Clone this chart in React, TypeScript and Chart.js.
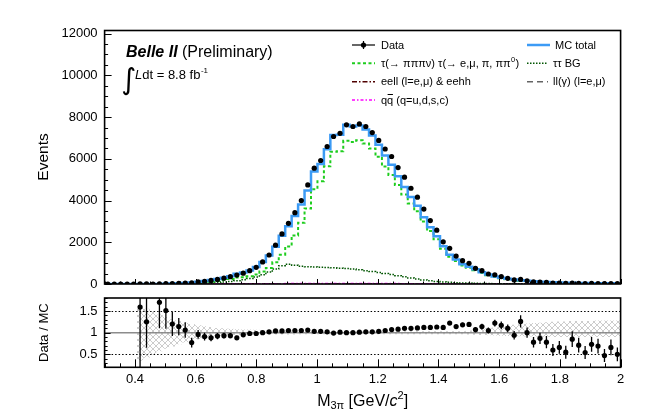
import React, { useEffect, useRef } from 'react';
import { Chart, registerables } from 'chart.js';

Chart.register(...registerables);

// ---------- binning ----------
const X_MIN = 0.3;
const X_MAX = 2.0;
const N_BINS = 80;

// ---------- main panel values (events per bin) ----------
const DATA = [
  0, 0, 0, 0, 0, 2, 4, 0, 8, 14,
  25, 35, 45, 55, 100, 130, 170, 220, 280, 350,
  430, 520, 640, 800, 1060, 1390, 1860, 2400, 2910, 3420,
  4000, 4750, 5550, 5920, 6590, 7070, 7220, 7630, 7550, 7670,
  7550, 7260, 6880, 6470, 6110, 5580, 5120, 4590, 4160, 3590,
  3040, 2580, 2020, 1710, 1340, 1120, 990, 750, 640, 480,
  443, 354, 273, 197, 220, 150, 100, 96, 74, 49,
  48, 35, 48, 35, 24, 29, 25, 15, 20, 14,
];

const MC_TOTAL = [
  0.5, 0.7, 1, 1.3, 1.6, 1.3, 3.2, 4, 4.7, 9.3,
  21, 31, 43, 71, 104, 143, 193, 239, 301, 376,
  489, 547, 653, 816, 1060, 1363, 1788, 2308, 2771, 3257,
  3810, 4481, 5388, 5748, 6461, 7141, 7149, 7630, 7550, 7594,
  7402, 7118, 6680, 6162, 5710, 5167, 4655, 4173, 3748, 3205,
  2714, 2283, 1804, 1402, 1175, 949, 832, 701, 561, 457,
  360, 300, 250, 210, 175, 150, 128, 110, 95, 82,
  72, 63, 56, 50, 45, 40, 36, 33, 30, 27,
];

const SIGNAL = [
  0.2, 0.3, 0.4, 0.5, 0.6, 0.3, 1.1, 1.2, 1.1, 3.8,
  10.5, 15.4, 21.3, 39.7, 61, 85.3, 119.6, 145.9, 186.2, 234.5,
  311, 328, 373, 455, 598, 770, 1044, 1403, 1795, 2330,
  2932, 3623, 4544, 4919, 5641, 6336, 6359, 6860, 6806, 6885,
  6734, 6490, 6098, 5630, 5230, 4743, 4287, 3861, 3488, 2991,
  2541, 2141, 1688, 1307, 1097, 885, 778, 656, 523, 425,
  333, 278, 231, 194, 161, 138, 118, 101, 86, 74,
  65, 56, 50, 44, 39, 34, 31, 28, 25, 22,
];

const TAUTAU_BG = [
  0.3, 0.4, 0.6, 0.8, 1, 0.6, 1.5, 2, 2.5, 4,
  8, 12, 17, 25, 35, 48, 62, 80, 100, 125,
  160, 200, 260, 340, 440, 570, 720, 880, 950, 900,
  850, 830, 815, 800, 790, 775, 760, 740, 715, 680,
  640, 600, 555, 505, 455, 400, 345, 290, 240, 195,
  155, 125, 100, 80, 64, 51, 41, 33, 26, 21,
  17, 13, 10, 8, 6, 5, 4, 3, 3, 2,
  2, 2, 1, 1, 1, 1, 1, 1, 1, 1,
];

const QQ_BG = [
  0, 0, 0, 0, 0, 0.2, 0.3, 0.4, 0.5, 0.7,
  1, 1.5, 2, 3, 4, 5, 6, 7, 8, 9,
  10, 11, 12, 13, 14, 15, 16, 17, 18, 19,
  20, 20, 21, 21, 22, 22, 22, 22, 22, 22,
  21, 21, 20, 20, 19, 18, 17, 16, 15, 14,
  13, 12, 11, 10, 10, 9, 9, 8, 8, 7,
  7, 6, 6, 5, 5, 5, 4, 4, 4, 4,
  3, 3, 3, 3, 3, 3, 2, 2, 2, 2,
];

const EELL_BG = [
  0, 0, 0, 0, 0, 0.2, 0.3, 0.4, 0.6, 0.8,
  1, 1.5, 2, 2.5, 3, 3.5, 4, 4.5, 5, 5.5,
  6, 6, 6, 6, 6, 6, 6, 6, 6, 6,
  6, 6, 6, 6, 6, 6, 6, 6, 5, 5,
  5, 5, 5, 5, 4, 4, 4, 4, 3, 3,
  3, 3, 3, 3, 2, 2, 2, 2, 2, 2,
  2, 2, 2, 2, 1, 1, 1, 1, 1, 1,
  1, 1, 1, 1, 1, 1, 1, 1, 1, 1,
];

const LLG_BG = [
  0, 0, 0, 0, 0, 0, 0, 0, 0, 0,
  0.5, 0.6, 0.7, 0.8, 1, 1.2, 1.4, 1.6, 1.8, 2,
  2, 2, 2, 2, 2, 2, 2, 2, 2, 2,
  2, 2, 2, 2, 2, 2, 2, 2, 2, 2,
  2, 2, 2, 2, 2, 2, 2, 2, 2, 2,
  2, 2, 2, 2, 2, 2, 2, 2, 2, 2,
  1, 1, 1, 1, 1, 1, 1, 1, 1, 1,
  1, 1, 1, 1, 1, 1, 1, 1, 1, 1,
];

// ---------- ratio panel values ----------
const RATIO = [
  null, null, null, null, null, 1.59, 1.25, null, 1.70, 1.51,
  1.20, 1.14, 1.06, 0.77, 0.96, 0.91, 0.88, 0.92, 0.93, 0.93,
  0.88, 0.95, 0.98, 0.98, 1.00, 1.02, 1.04, 1.04, 1.05, 1.05,
  1.05, 1.06, 1.03, 1.03, 1.02, 0.99, 1.01, 1.00, 1.00, 1.01,
  1.02, 1.02, 1.03, 1.05, 1.07, 1.08, 1.10, 1.10, 1.11, 1.12,
  1.12, 1.13, 1.12, 1.22, 1.14, 1.18, 1.19, 1.07, 1.14, 1.05,
  1.22, 1.17, 1.10, 0.94, 1.26, 1.00, 0.78, 0.87, 0.78, 0.60,
  0.66, 0.55, 0.85, 0.71, 0.54, 0.73, 0.69, 0.47, 0.66, 0.50,
];

const RATIO_ERR = [
  null, null, null, null, null, 1.6, 0.6, null, 0.6, 0.42,
  0.28, 0.2, 0.18, 0.11, 0.1, 0.09, 0.08, 0.07, 0.065, 0.06,
  0.05, 0.045, 0.04, 0.035, 0.03, 0.03, 0.025, 0.025, 0.02, 0.02,
  0.02, 0.02, 0.02, 0.02, 0.02, 0.02, 0.02, 0.02, 0.02, 0.02,
  0.02, 0.02, 0.02, 0.02, 0.02, 0.02, 0.02, 0.02, 0.02, 0.02,
  0.025, 0.03, 0.03, 0.04, 0.045, 0.05, 0.055, 0.06, 0.065, 0.07,
  0.08, 0.09, 0.09, 0.1, 0.14, 0.12, 0.12, 0.13, 0.14, 0.14,
  0.15, 0.15, 0.18, 0.17, 0.15, 0.17, 0.17, 0.15, 0.18, 0.16,
];

const BAND_LO = [
  null, null, null, null, null, 0.35, 0.42, 0.5, 0.57, 0.63,
  0.68, 0.73, 0.77, 0.81, 0.84, 0.86, 0.88, 0.9, 0.91, 0.92,
  0.93, 0.935, 0.94, 0.945, 0.95, 0.955, 0.955, 0.955, 0.955, 0.955,
  0.965, 0.965, 0.965, 0.965, 0.965, 0.965, 0.965, 0.965, 0.965, 0.965,
  0.965, 0.965, 0.965, 0.965, 0.965, 0.965, 0.965, 0.965, 0.965, 0.965,
  0.965, 0.965, 0.965, 0.965, 0.965, 0.965, 0.955, 0.95, 0.945, 0.94,
  0.935, 0.93, 0.925, 0.92, 0.915, 0.91, 0.91, 0.905, 0.905, 0.9,
  0.9, 0.9, 0.9, 0.9, 0.9, 0.9, 0.9, 0.9, 0.9, 0.9,
];

const BAND_HI = [
  null, null, null, null, null, 1.62, 1.55, 1.48, 1.42, 1.36,
  1.31, 1.27, 1.23, 1.2, 1.17, 1.15, 1.13, 1.11, 1.1, 1.09,
  1.08, 1.075, 1.07, 1.065, 1.06, 1.05, 1.05, 1.05, 1.05, 1.05,
  1.035, 1.035, 1.035, 1.035, 1.035, 1.035, 1.035, 1.035, 1.035, 1.035,
  1.035, 1.035, 1.035, 1.035, 1.035, 1.035, 1.035, 1.035, 1.035, 1.035,
  1.035, 1.035, 1.035, 1.035, 1.035, 1.035, 1.05, 1.06, 1.08, 1.1,
  1.12, 1.14, 1.16, 1.18, 1.2, 1.21, 1.22, 1.23, 1.24, 1.25,
  1.26, 1.26, 1.27, 1.27, 1.27, 1.27, 1.28, 1.28, 1.28, 1.28,
];

// ---------- tick labels ----------
const X_TICKS = [0.4, 0.6, 0.8, 1.0, 1.2, 1.4, 1.6, 1.8, 2.0];
const Y_TICKS_MAIN = [0, 2000, 4000, 6000, 8000, 10000, 12000];
const Y_TICKS_RATIO = [0.5, 1, 1.5];
const Y_MAX_MAIN = 12150;
const Y_MIN_RATIO = 0.2;
const Y_MAX_RATIO = 1.8;

// ---------- layout / style ----------
const W = 654;
const MAIN_H = 292;
const RATIO_H = 126;
const PLOT_L = 104.6;
const PLOT_R = 620.6;
const MAIN_TOP = 30.5;
const MAIN_BOTTOM = 284;
const RATIO_TOP = 6;
const RATIO_BOTTOM = 75.3;
const FONT = '"Liberation Sans", Arial, Helvetica, sans-serif';

const C_MC = 'rgb(60,155,245)';
const C_SIG = 'rgb(30,205,30)';
const C_TT = 'rgb(0,85,0)';
const C_EELL = 'rgb(80,0,0)';
const C_LLG = 'rgb(100,100,100)';
const C_QQ = 'rgb(255,0,255)';

const BIN_W = (X_MAX - X_MIN) / N_BINS;
const binCenter = (i: number) => X_MIN + (i + 0.5) * BIN_W;

function stepPoints(vals: (number | null)[]) {
  const pts: { x: number; y: number }[] = [];
  let last = 0;
  vals.forEach((v, i) => {
    if (v == null) return;
    pts.push({ x: X_MIN + i * BIN_W, y: v });
    last = v;
  });
  pts.push({ x: X_MAX, y: last });
  return pts;
}

function makeHatch(color: string) {
  const c = document.createElement('canvas');
  c.width = 6;
  c.height = 6;
  const g = c.getContext('2d')!;
  g.strokeStyle = color;
  g.lineWidth = 0.7;
  g.beginPath();
  g.moveTo(0, 0);
  g.lineTo(6, 6);
  g.moveTo(6, 0);
  g.lineTo(0, 6);
  g.stroke();
  return g.createPattern(c, 'repeat') as CanvasPattern;
}

function histDataset(vals: number[], color: string, width: number, dash: number[]) {
  return {
    data: stepPoints(vals),
    stepped: 'before' as const,
    borderColor: color,
    borderWidth: width,
    borderDash: dash,
    pointRadius: 0,
    fill: false,
    tension: 0,
  };
}

function range(start: number, end: number, step: number) {
  const out: number[] = [];
  const n = Math.round((end - start) / step);
  for (let k = 0; k <= n; k++) out.push(start + k * step);
  return out;
}

function noOverflowY(s: any) {
  s.width = PLOT_L;
  s.paddingTop = 0;
  s.paddingBottom = 0;
}

function drawXTicks(chart: any, major: number, minor: number) {
  const { ctx, chartArea: a, scales } = chart;
  const x = scales.x;
  ctx.save();
  ctx.strokeStyle = '#000';
  ctx.lineWidth = 1;
  ctx.beginPath();
  range(X_MIN, X_MAX, 0.05).forEach((v) => {
    const isMajor = X_TICKS.some((t) => Math.abs(t - v) < 1e-6);
    const px = Math.round(x.getPixelForValue(v)) + 0.5;
    ctx.moveTo(px, a.bottom);
    ctx.lineTo(px, a.bottom - (isMajor ? major : minor));
  });
  ctx.stroke();
  ctx.restore();
}

function drawYTicks(chart: any, majors: number[], minors: number[], major: number, minor: number) {
  const { ctx, chartArea: a, scales } = chart;
  const y = scales.y;
  ctx.save();
  ctx.strokeStyle = '#000';
  ctx.lineWidth = 1;
  ctx.beginPath();
  minors.forEach((v) => {
    const isMajor = majors.some((t) => Math.abs(t - v) < 1e-6);
    const py = Math.round(y.getPixelForValue(v)) + 0.5;
    ctx.moveTo(a.left, py);
    ctx.lineTo(a.left + (isMajor ? major : minor), py);
  });
  ctx.stroke();
  ctx.restore();
}

function drawFrame(chart: any) {
  const { ctx, chartArea: a } = chart;
  ctx.save();
  ctx.strokeStyle = '#000';
  ctx.lineWidth = 1.6;
  ctx.strokeRect(a.left, a.top, a.right - a.left, a.bottom - a.top);
  ctx.restore();
}

function drawLegendLine(ctx: CanvasRenderingContext2D, x0: number, x1: number, y: number, color: string, width: number, dash: number[]) {
  ctx.save();
  ctx.strokeStyle = color;
  ctx.lineWidth = width;
  ctx.setLineDash(dash);
  ctx.beginPath();
  ctx.moveTo(x0, y);
  ctx.lineTo(x1, y);
  ctx.stroke();
  ctx.restore();
}

const mainDecor = {
  id: 'mainDecor',
  afterDraw(chart: any) {
    const ctx: CanvasRenderingContext2D = chart.ctx;
    drawFrame(chart);
    drawYTicks(chart, Y_TICKS_MAIN, range(0, 12000, 500), 7, 3.5);
    drawXTicks(chart, 5, 2.5);

    ctx.save();
    ctx.fillStyle = '#000';
    ctx.textBaseline = 'alphabetic';
    ctx.textAlign = 'left';
    // Belle II (Preliminary)
    ctx.font = `italic bold 16px ${FONT}`;
    ctx.fillText('Belle II', 126, 57);
    const wB = ctx.measureText('Belle II').width;
    ctx.font = `16px ${FONT}`;
    ctx.fillText(' (Preliminary)', 126 + wB, 57);
    // integral
    ctx.font = `29px "DejaVu Sans", sans-serif`;
    ctx.fillText('\u222B', 121, 89);
    ctx.font = `italic 13px ${FONT}`;
    ctx.fillText('L', 135, 79);
    let xx = 135 + ctx.measureText('L').width;
    ctx.font = `13px ${FONT}`;
    ctx.fillText('dt = 8.8 fb', xx, 79);
    xx += ctx.measureText('dt = 8.8 fb').width;
    ctx.font = `8px ${FONT}`;
    ctx.fillText('-1', xx + 0.5, 73);

    // legend
    const rows = [45, 63.3, 81.7, 100];
    const lx0 = 352, lx1 = 375, ltx = 381;
    const rx0 = 527, rx1 = 550, rtx = 555;
    ctx.font = `11px ${FONT}`;
    ctx.textBaseline = 'middle';
    // Data
    drawLegendLine(ctx, lx0, lx1, rows[0], '#000', 1.2, []);
    ctx.beginPath();
    ctx.moveTo((lx0 + lx1) / 2, rows[0] - 4);
    ctx.lineTo((lx0 + lx1) / 2, rows[0] + 4);
    ctx.lineWidth = 1.2;
    ctx.strokeStyle = '#000';
    ctx.stroke();
    ctx.beginPath();
    ctx.arc((lx0 + lx1) / 2, rows[0], 2.6, 0, Math.PI * 2);
    ctx.fill();
    ctx.fillText('Data', ltx, rows[0] + 0.5);
    // signal
    drawLegendLine(ctx, lx0, lx1, rows[1], C_SIG, 2, [3, 2.5]);
    const sigTxt = '\u03C4(\u2192 \u03C0\u03C0\u03C0\u03BD) \u03C4(\u2192 e,\u03BC, \u03C0, \u03C0\u03C0';
    ctx.fillText(sigTxt, ltx, rows[1] + 0.5);
    let sx = ltx + ctx.measureText(sigTxt).width;
    ctx.font = `7.5px ${FONT}`;
    ctx.fillText('0', sx + 0.3, rows[1] - 3.5);
    sx += ctx.measureText('0').width + 0.6;
    ctx.font = `11px ${FONT}`;
    ctx.fillText(')', sx, rows[1] + 0.5);
    // eell
    drawLegendLine(ctx, lx0, lx1, rows[2], C_EELL, 1.5, [5, 2, 1.5, 2]);
    ctx.fillText('eell (l=e,\u03BC) & eehh', ltx, rows[2] + 0.5);
    // qq
    drawLegendLine(ctx, lx0, lx1, rows[3], C_QQ, 1.5, [3, 2, 1.5, 2]);
    ctx.fillText('qq', ltx, rows[3] + 0.5);
    const wq = ctx.measureText('q').width;
    ctx.beginPath();
    ctx.strokeStyle = '#000';
    ctx.lineWidth = 1;
    ctx.moveTo(ltx + wq + 0.5, rows[3] - 5.5);
    ctx.lineTo(ltx + 2 * wq - 0.3, rows[3] - 5.5);
    ctx.stroke();
    ctx.fillText(' (q=u,d,s,c)', ltx + 2 * wq, rows[3] + 0.5);
    // right column
    drawLegendLine(ctx, rx0, rx1, rows[0], C_MC, 2.5, []);
    ctx.fillText('MC total', rtx, rows[0] + 0.5);
    drawLegendLine(ctx, rx0, rx1 - 3, rows[1], C_TT, 1.5, [1.5, 1.5]);
    ctx.fillText('\u03C4\u03C4 BG', rtx - 2, rows[1] + 0.5);
    drawLegendLine(ctx, rx0, rx1 - 2, rows[2], C_LLG, 1.5, [6, 4]);
    ctx.fillText('ll(\u03B3) (l=e,\u03BC)', rtx - 2, rows[2] + 0.5);

    // y title
    ctx.font = `15.5px ${FONT}`;
    ctx.translate(44, 157);
    ctx.rotate(-Math.PI / 2);
    ctx.textAlign = 'center';
    ctx.textBaseline = 'middle';
    ctx.fillText('Events', 0, 0);
    ctx.restore();
  },
};

const ratioDecor = {
  id: 'ratioDecor',
  beforeDatasetsDraw(chart: any) {
    const { ctx, chartArea: a, scales } = chart;
    const y = scales.y;
    ctx.save();
    ctx.lineWidth = 1;
    ctx.strokeStyle = '#000';
    ctx.setLineDash([1.5, 2]);
    [0.5, 1.5].forEach((v) => {
      const py = Math.round(y.getPixelForValue(v)) + 0.5;
      ctx.beginPath();
      ctx.moveTo(a.left, py);
      ctx.lineTo(a.right, py);
      ctx.stroke();
    });
    ctx.setLineDash([]);
    ctx.strokeStyle = 'rgb(140,140,140)';
    ctx.lineWidth = 1.5;
    const p1 = y.getPixelForValue(1);
    ctx.beginPath();
    ctx.moveTo(a.left, p1);
    ctx.lineTo(a.right, p1);
    ctx.stroke();
    ctx.restore();
  },
  afterDatasetsDraw(chart: any) {
    const { ctx, chartArea: a, scales } = chart;
    const x = scales.x;
    const y = scales.y;
    ctx.save();
    ctx.beginPath();
    ctx.rect(a.left, a.top, a.right - a.left, a.bottom - a.top);
    ctx.clip();
    ctx.strokeStyle = '#000';
    ctx.lineWidth = 1.3;
    RATIO.forEach((v, i) => {
      const e = RATIO_ERR[i];
      if (v == null || e == null) return;
      const px = x.getPixelForValue(binCenter(i));
      ctx.beginPath();
      ctx.moveTo(px, y.getPixelForValue(v - e));
      ctx.lineTo(px, y.getPixelForValue(v + e));
      ctx.stroke();
    });
    ctx.restore();
  },
  afterDraw(chart: any) {
    const ctx: CanvasRenderingContext2D = chart.ctx;
    drawFrame(chart);
    drawYTicks(chart, Y_TICKS_RATIO, range(Y_MIN_RATIO, Y_MAX_RATIO, 0.1), 6, 3);
    drawXTicks(chart, 8, 4);
    ctx.save();
    ctx.fillStyle = '#000';
    // y title
    ctx.save();
    ctx.font = `13px ${FONT}`;
    ctx.translate(44, (chart.chartArea.top + chart.chartArea.bottom) / 2);
    ctx.rotate(-Math.PI / 2);
    ctx.textAlign = 'center';
    ctx.textBaseline = 'middle';
    ctx.fillText('Data / MC', 0, 0);
    ctx.restore();
    // x title
    const cy = 110;
    const big = `16px ${FONT}`;
    const small = `11px ${FONT}`;
    const ital = `italic 16px ${FONT}`;
    const parts: [string, string, number][] = [
      ['M', big, 0],
      ['3\u03C0', small, 4],
      [' [GeV/', big, 0],
      ['c', ital, 0],
      ['2', small, -6],
      [']', big, 0],
    ];
    let total = 0;
    parts.forEach(([t, f]) => {
      ctx.font = f;
      total += ctx.measureText(t).width;
    });
    let px = (chart.chartArea.left + chart.chartArea.right) / 2 - total / 2;
    ctx.textBaseline = 'middle';
    ctx.textAlign = 'left';
    parts.forEach(([t, f, dy]) => {
      ctx.font = f;
      ctx.fillText(t, px, cy + dy);
      px += ctx.measureText(t).width;
    });
    ctx.restore();
  },
};

export default function App() {
  const mainRef = useRef<HTMLCanvasElement>(null);
  const ratioRef = useRef<HTMLCanvasElement>(null);

  useEffect(() => {
    Chart.defaults.font.family = FONT;
    Chart.defaults.color = '#000';
    const hatch = makeHatch('rgba(150,150,150,0.7)');

    const dataPoints = DATA.map((v, i) => ({ x: binCenter(i), y: v }));

    const main = new Chart(mainRef.current!, {
      type: 'line',
      data: {
        datasets: [
          {
            data: dataPoints,
            showLine: false,
            pointRadius: 2.6,
            pointBackgroundColor: '#000',
            pointBorderWidth: 0,
            borderColor: '#000',
          } as any,
          histDataset(MC_TOTAL, C_MC, 2.5, []),
          histDataset(SIGNAL, C_SIG, 2, [3, 2.5]),
          histDataset(TAUTAU_BG, C_TT, 1.5, [1.5, 1.5]),
          histDataset(QQ_BG, C_QQ, 1.5, [3, 2, 1.5, 2]),
          histDataset(LLG_BG, C_LLG, 1.5, [6, 4]),
          histDataset(EELL_BG, C_EELL, 1.5, [5, 2, 1.5, 2]),
        ],
      },
      options: {
        animation: false,
        responsive: false,
        devicePixelRatio: 1,
        events: [],
        layout: { padding: { left: 0, right: W - PLOT_R, top: MAIN_TOP, bottom: MAIN_H - MAIN_BOTTOM } },
        plugins: { legend: { display: false }, tooltip: { enabled: false } },
        scales: {
          x: { type: 'linear', min: X_MIN, max: X_MAX, display: false },
          y: {
            type: 'linear',
            min: 0,
            max: Y_MAX_MAIN,
            afterFit: noOverflowY,
            afterBuildTicks: (s: any) => {
              s.ticks = Y_TICKS_MAIN.map((v) => ({ value: v }));
            },
            grid: { display: false, drawTicks: false },
            border: { display: false },
            ticks: {
              padding: 7,
              color: '#000',
              font: { size: 13, family: FONT },
              callback: (v: any) => String(v),
            },
          },
        },
      } as any,
      plugins: [mainDecor],
    });

    const ratioPoints = RATIO.map((v, i) => (v == null ? null : { x: binCenter(i), y: v })).filter(
      (p) => p != null
    );

    const ratio = new Chart(ratioRef.current!, {
      type: 'line',
      data: {
        datasets: [
          {
            data: ratioPoints,
            showLine: false,
            pointRadius: 2.6,
            pointBackgroundColor: '#000',
            pointBorderWidth: 0,
            borderColor: '#000',
          } as any,
          {
            data: stepPoints(BAND_HI),
            stepped: 'before',
            borderWidth: 0,
            pointRadius: 0,
            fill: '+1',
            backgroundColor: hatch,
          } as any,
          {
            data: stepPoints(BAND_LO),
            stepped: 'before',
            borderWidth: 0,
            pointRadius: 0,
            fill: false,
          } as any,
        ],
      },
      options: {
        animation: false,
        responsive: false,
        devicePixelRatio: 1,
        events: [],
        layout: { padding: { left: 0, right: W - PLOT_R, top: RATIO_TOP, bottom: 0 } },
        plugins: { legend: { display: false }, tooltip: { enabled: false } },
        scales: {
          x: {
            type: 'linear',
            min: X_MIN,
            max: X_MAX,
            afterFit: (s: any) => {
              s.height = RATIO_H - RATIO_BOTTOM;
              s.paddingLeft = 0;
              s.paddingRight = 0;
            },
            afterBuildTicks: (s: any) => {
              s.ticks = X_TICKS.map((v) => ({ value: v }));
            },
            grid: { display: false, drawTicks: false },
            border: { display: false },
            ticks: {
              padding: 4.5,
              autoSkip: false,
              maxRotation: 0,
              color: '#000',
              font: { size: 13, family: FONT },
              callback: (v: any) => String(Math.round(Number(v) * 10) / 10),
            },
          },
          y: {
            type: 'linear',
            min: Y_MIN_RATIO,
            max: Y_MAX_RATIO,
            afterFit: noOverflowY,
            afterBuildTicks: (s: any) => {
              s.ticks = Y_TICKS_RATIO.map((v) => ({ value: v }));
            },
            grid: { display: false, drawTicks: false },
            border: { display: false },
            ticks: {
              padding: 7,
              color: '#000',
              font: { size: 13, family: FONT },
              callback: (v: any) => String(Math.round(Number(v) * 10) / 10),
            },
          },
        },
      } as any,
      plugins: [ratioDecor],
    });

    return () => {
      main.destroy();
      ratio.destroy();
    };
  }, []);

  return (
    <div style={{ position: 'fixed', left: 0, top: 0, width: W, height: MAIN_H + RATIO_H, background: '#fff' }}>
      <canvas ref={mainRef} width={W} height={MAIN_H} style={{ position: 'absolute', left: 0, top: 0 }} />
      <canvas ref={ratioRef} width={W} height={RATIO_H} style={{ position: 'absolute', left: 0, top: MAIN_H }} />
    </div>
  );
}
